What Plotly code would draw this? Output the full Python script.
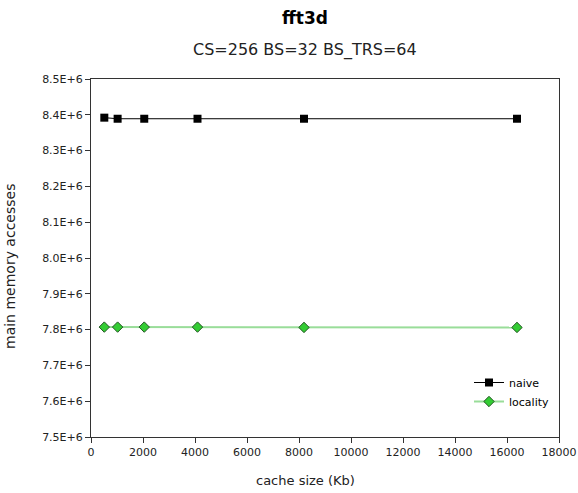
import plotly.graph_objects as go

cache_size = [512, 1024, 2048, 4096, 8192, 16384]
naive = [8.392e6, 8.389e6, 8.389e6, 8.389e6, 8.389e6, 8.389e6]
locality = [7.807e6, 7.807e6, 7.807e6, 7.807e6, 7.806e6, 7.806e6]
x_ticks = list(range(0, 18001, 2000))
x_labels = [str(v) for v in x_ticks]
y_ticks = [7.5e6 + i * 0.1e6 for i in range(11)]
y_labels = ["%.1fE+6" % (v / 1e6) for v in y_ticks]

fig = go.Figure()
fig.add_trace(go.Scatter(
    x=cache_size, y=naive, name="naive", mode="lines+markers",
    line=dict(color="#000000", width=1),
    marker=dict(symbol="square", size=8, color="#000000"),
))
fig.add_trace(go.Scatter(
    x=cache_size, y=locality, name="locality", mode="lines+markers",
    line=dict(color="#99dd99", width=2),
    marker=dict(symbol="diamond", size=8, color="#33cc33", line=dict(color="#225522", width=1)),
))

font = "DejaVu Sans, sans-serif"
L, R, T, B = 91, 19, 79, 56
pw = 578 - L - R
ph = 493 - T - B
cx = (305 - L) / pw
fig.update_layout(
    width=578, height=493,
    margin=dict(l=L, r=R, t=T, b=B, autoexpand=False),
    paper_bgcolor="white", plot_bgcolor="white",
    font=dict(family=font, size=11, color="#222222"),
    showlegend=True,
    legend=dict(x=(469 - L) / pw, y=(T + ph - 392) / ph, xanchor="left", yanchor="middle",
                bgcolor="rgba(0,0,0,0)", font=dict(size=11, color="#000000"),
                tracegroupgap=0, itemwidth=30),
    annotations=[
        dict(text="<b>fft3d</b>", x=cx, xref="paper", y=1, yref="paper", yanchor="middle",
             yshift=T - 18, showarrow=False, font=dict(size=17, color="#000000", family=font)),
        dict(text="CS=256 BS=32 BS_TRS=64", x=cx, xref="paper", y=1, yref="paper", yanchor="middle",
             yshift=T - 50, showarrow=False, font=dict(size=16, color="#222222", family=font)),
        dict(text="cache size (Kb)", x=cx, xref="paper", y=0, yref="paper",
             yanchor="middle", yshift=-(480 - (T + ph)), showarrow=False,
             font=dict(size=13, color="#222222", family=font)),
        dict(text="main memory accesses", x=0, xref="paper", xanchor="center", xshift=-(L - 10),
             y=(T + ph - 267) / ph, yref="paper", yanchor="middle", textangle=-90, showarrow=False,
             font=dict(size=14, color="#222222", family=font)),
    ],
)

fig.update_xaxes(
    range=[0, 18000], tickvals=x_ticks, ticktext=x_labels, automargin=False,
    showgrid=False, zeroline=False, showline=True, linecolor="#333333", linewidth=1,
    mirror=True, ticks="outside", ticklen=5, tickcolor="#333333",
)
fig.update_yaxes(
    range=[7.5e6, 8.5e6], tickvals=y_ticks, ticktext=y_labels, automargin=False,
    showgrid=False, zeroline=False, showline=True, linecolor="#333333", linewidth=1,
    mirror=True, ticks="outside", ticklen=5, tickcolor="#333333",
)

fig.write_html("out.html")
